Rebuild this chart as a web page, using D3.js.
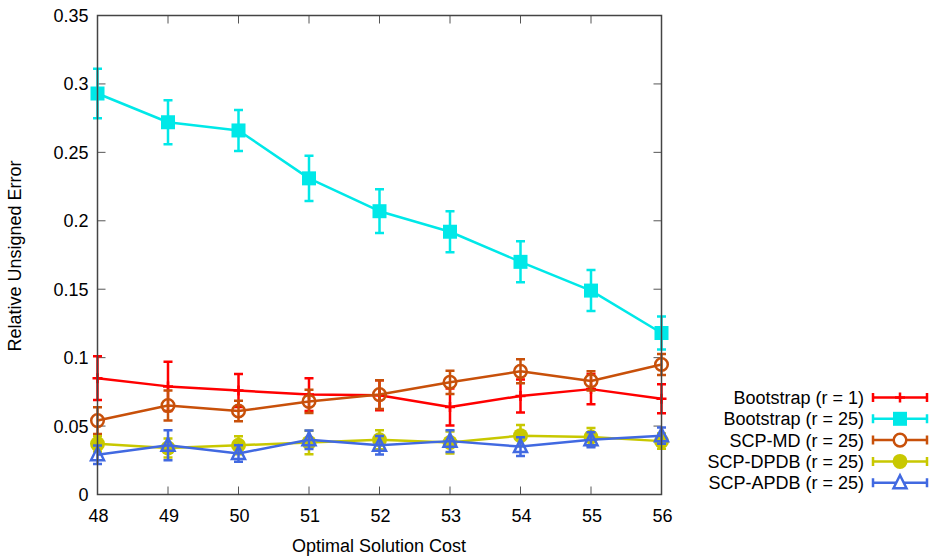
<!DOCTYPE html>
<html>
<head>
<meta charset="utf-8">
<script src="https://cdn.jsdelivr.net/npm/d3@7"></script>
<style>
  body { margin: 0; background: #fff; }
  svg { display: block; font-family: "Liberation Sans", Arial, sans-serif; }
</style>
</head>
<body>
<svg id="chart" width="934" height="558"></svg>
<script>
// Optimal solution cost on the x axis
const costs = [48, 49, 50, 51, 52, 53, 54, 55, 56];

// Mean relative unsigned error and half-width of its error bar per series
const bootstrapR1 = [0.085, 0.079, 0.076, 0.073, 0.0725, 0.064, 0.072, 0.077, 0.070];
const bootstrapR1Err = [0.016, 0.018, 0.012, 0.012, 0.011, 0.0135, 0.012, 0.011, 0.0106];

const bootstrapR25 = [0.293, 0.272, 0.266, 0.231, 0.207, 0.192, 0.170, 0.149, 0.118];
const bootstrapR25Err = [0.018, 0.016, 0.015, 0.0165, 0.016, 0.015, 0.015, 0.015, 0.012];

const scpMD = [0.054, 0.065, 0.061, 0.068, 0.073, 0.082, 0.090, 0.083, 0.095];
const scpMDErr = [0.0098, 0.011, 0.0075, 0.0085, 0.0105, 0.0085, 0.0088, 0.007, 0.0077];

const scpDPDB = [0.037, 0.034, 0.036, 0.038, 0.040, 0.038, 0.043, 0.042, 0.039];
const scpDPDBErr = [0.0055, 0.007, 0.0065, 0.0085, 0.007, 0.008, 0.0078, 0.0065, 0.0055];

const scpAPDB = [0.029, 0.036, 0.030, 0.040, 0.036, 0.039, 0.035, 0.040, 0.043];
const scpAPDBErr = [0.0068, 0.011, 0.006, 0.0067, 0.0067, 0.008, 0.0068, 0.0055, 0.006];

const seriesNames = ["Bootstrap (r = 1)", "Bootstrap (r = 25)", "SCP-MD (r = 25)", "SCP-DPDB (r = 25)", "SCP-APDB (r = 25)"];
const seriesColors = ["#ff0000", "#00e8e8", "#c8500a", "#c8c800", "#4169e1"];
const seriesMarkers = ["plus", "square", "circleOpen", "circleFilled", "triangleOpen"];

const yTicks = [0, 0.05, 0.1, 0.15, 0.2, 0.25, 0.3, 0.35];
const yTickLabels = ["0", "0.05", "0.1", "0.15", "0.2", "0.25", "0.3", "0.35"];

const series = [
  { values: bootstrapR1, errs: bootstrapR1Err },
  { values: bootstrapR25, errs: bootstrapR25Err },
  { values: scpMD, errs: scpMDErr },
  { values: scpDPDB, errs: scpDPDBErr },
  { values: scpAPDB, errs: scpAPDBErr }
].map((s, i) => ({ ...s, name: seriesNames[i], color: seriesColors[i], marker: seriesMarkers[i] }));

const svg = d3.select("#chart");
const plot = { left: 97.5, right: 661.5, top: 15.5, bottom: 494.5 };

const x = d3.scaleLinear().domain([48, 56]).range([plot.left, plot.right]);
const y = d3.scaleLinear().domain([0, 0.35]).range([plot.bottom, plot.top]);

const frameColor = "#444";
const tickLen = 8;
const fontSize = 18;

// Tick marks pointing inward on all four sides
const ticks = svg.append("g").attr("stroke", "#555").attr("stroke-width", 1);
costs.forEach(c => {
  ticks.append("line").attr("x1", x(c)).attr("x2", x(c)).attr("y1", plot.bottom).attr("y2", plot.bottom - tickLen);
  ticks.append("line").attr("x1", x(c)).attr("x2", x(c)).attr("y1", plot.top).attr("y2", plot.top + tickLen);
});
yTicks.forEach(v => {
  ticks.append("line").attr("x1", plot.left).attr("x2", plot.left + tickLen).attr("y1", y(v)).attr("y2", y(v));
  ticks.append("line").attr("x1", plot.right).attr("x2", plot.right - tickLen).attr("y1", y(v)).attr("y2", y(v));
});

// Tick labels
svg.append("g").selectAll("text").data(costs).join("text")
  .attr("x", c => x(c) + 1).attr("y", plot.bottom + 27)
  .attr("text-anchor", "middle").attr("font-size", fontSize).attr("fill", "#000")
  .text(c => String(c));
svg.append("g").selectAll("text").data(yTicks).join("text")
  .attr("x", plot.left - 9).attr("y", v => y(v) + 6.5)
  .attr("text-anchor", "end").attr("font-size", fontSize).attr("fill", "#000")
  .text((v, i) => yTickLabels[i]);

// Axis titles
svg.append("text").attr("x", 379).attr("y", 552)
  .attr("text-anchor", "middle").attr("font-size", fontSize).text("Optimal Solution Cost");
svg.append("text").attr("transform", `translate(21,${(plot.top + plot.bottom) / 2 + 1}) rotate(-90)`)
  .attr("text-anchor", "middle").attr("font-size", fontSize).text("Relative Unsigned Error");

// Marker shapes
function drawMarker(g, kind, cx, cy, color) {
  const sw = 2.5;
  if (kind === "plus") {
    g.append("path").attr("d", `M${cx - 5},${cy}H${cx + 5}M${cx},${cy - 5}V${cy + 5}`)
      .attr("stroke", color).attr("stroke-width", sw).attr("fill", "none");
  } else if (kind === "square") {
    g.append("rect").attr("x", cx - 7).attr("y", cy - 7).attr("width", 14).attr("height", 14).attr("fill", color);
  } else if (kind === "circleOpen") {
    g.append("circle").attr("cx", cx).attr("cy", cy).attr("r", 6.3)
      .attr("fill", "none").attr("stroke", color).attr("stroke-width", sw);
  } else if (kind === "circleFilled") {
    g.append("circle").attr("cx", cx).attr("cy", cy).attr("r", 7.5).attr("fill", color);
  } else if (kind === "triangleOpen") {
    const h = 6.5;
    g.append("path").attr("d", `M${cx},${cy - h - 1}L${cx + h},${cy + h - 1}L${cx - h},${cy + h - 1}Z`)
      .attr("fill", "none").attr("stroke", color).attr("stroke-width", sw);
  }
}

const line = d3.line().x(d => x(d.c)).y(d => y(d.v));
const capHalf = 4.5;

series.forEach(s => {
  const g = svg.append("g");
  const pts = costs.map((c, i) => ({ c, v: s.values[i], e: s.errs[i] }));
  g.append("path").datum(pts).attr("d", line)
    .attr("fill", "none").attr("stroke", s.color).attr("stroke-width", 2.5).attr("stroke-linejoin", "round");
  pts.forEach(p => {
    const px = x(p.c), top = y(p.v + p.e), bot = y(p.v - p.e);
    g.append("path")
      .attr("d", `M${px},${top}V${bot}M${px - capHalf},${top}H${px + capHalf}M${px - capHalf},${bot}H${px + capHalf}`)
      .attr("stroke", s.color).attr("stroke-width", 2.5).attr("fill", "none");
    drawMarker(g, s.marker, px, y(p.v), s.color);
  });
});

// Frame
svg.append("rect")
  .attr("x", plot.left).attr("y", plot.top)
  .attr("width", plot.right - plot.left).attr("height", plot.bottom - plot.top)
  .attr("fill", "none").attr("stroke", frameColor).attr("stroke-width", 1.5);

// Legend
const legend = svg.append("g");
const legTop = 397.5, legStep = 21.3, legX1 = 873, legX2 = 927, legTextX = 864;
series.forEach((s, i) => {
  const ly = legTop + i * legStep;
  legend.append("text").attr("x", legTextX).attr("y", ly + 6.5)
    .attr("text-anchor", "end").attr("font-size", fontSize).text(s.name);
  legend.append("path")
    .attr("d", `M${legX1},${ly}H${legX2}M${legX1},${ly - 4.5}V${ly + 4.5}M${legX2},${ly - 4.5}V${ly + 4.5}`)
    .attr("stroke", s.color).attr("stroke-width", 2.5).attr("fill", "none");
  const mx = (legX1 + legX2) / 2;
  if (s.marker === "circleOpen") {
    legend.append("circle").attr("cx", mx).attr("cy", ly).attr("r", 6.3)
      .attr("fill", "#fff").attr("stroke", s.color).attr("stroke-width", 2.5);
  } else if (s.marker === "triangleOpen") {
    const h = 6.5;
    legend.append("path").attr("d", `M${mx},${ly - h - 1}L${mx + h},${ly + h - 1}L${mx - h},${ly + h - 1}Z`)
      .attr("fill", "#fff").attr("stroke", s.color).attr("stroke-width", 2.5);
  } else {
    drawMarker(legend, s.marker, mx, ly, s.color);
  }
});
</script>
</body>
</html>
